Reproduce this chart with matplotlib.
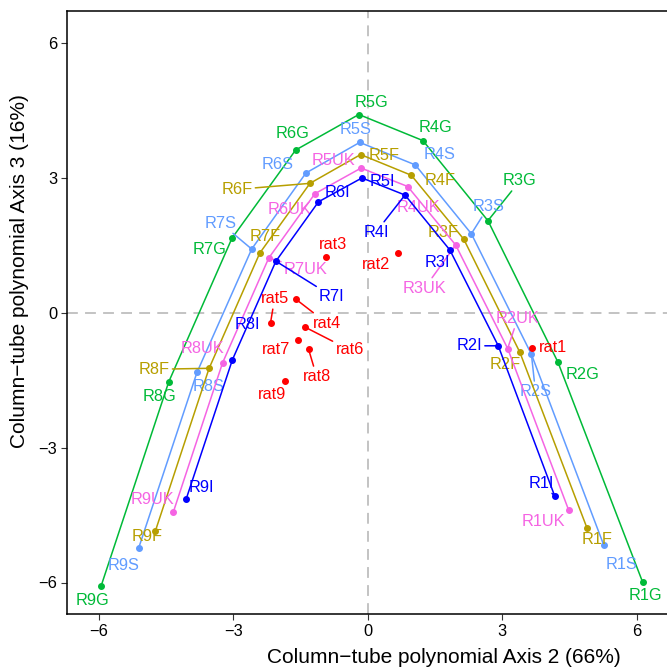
import matplotlib
matplotlib.use("Agg")
import matplotlib.pyplot as plt

plt.rcParams["font.family"] = ["Liberation Sans", "DejaVu Sans"]

rows = ["R1", "R2", "R3", "R4", "R5", "R6", "R7", "R8", "R9"]
groups = ["G", "S", "F", "UK", "I"]

# axis 2 / axis 3 coordinates
g_x = [6.13, 4.24, 2.68, 1.23, -0.20, -1.61, -3.03, -4.44, -5.95]
g_y = [-5.99, -1.10, 2.04, 3.82, 4.40, 3.61, 1.65, -1.54, -6.08]
s_x = [5.26, 3.65, 2.31, 1.06, -0.18, -1.38, -2.59, -3.81, -5.11]
s_y = [-5.16, -0.93, 1.75, 3.28, 3.78, 3.10, 1.41, -1.33, -5.23]
f_x = [4.89, 3.39, 2.14, 0.97, -0.16, -1.29, -2.41, -3.54, -4.74]
f_y = [-4.79, -0.88, 1.63, 3.05, 3.51, 2.87, 1.32, -1.24, -4.86]
uk_x = [4.48, 3.12, 1.96, 0.89, -0.15, -1.18, -2.21, -3.24, -4.34]
uk_y = [-4.39, -0.80, 1.50, 2.80, 3.21, 2.64, 1.21, -1.12, -4.44]
i_x = [4.17, 2.91, 1.83, 0.83, -0.13, -1.10, -2.05, -3.02, -4.05]
i_y = [-4.08, -0.74, 1.39, 2.61, 2.99, 2.46, 1.14, -1.05, -4.14]

rats = ["rat1", "rat2", "rat3", "rat4", "rat5", "rat6", "rat7", "rat8", "rat9"]
rat_x = [3.67, 0.68, -0.93, -1.61, -2.17, -1.41, -1.56, -1.32, -1.84]
rat_y = [-0.78, 1.32, 1.23, 0.30, -0.23, -0.32, -0.61, -0.82, -1.53]

colors = {"G": "#00BA38", "S": "#619CFF", "F": "#B79F00",
          "UK": "#F564E3", "I": "#0000FF", "rat": "#FF0000"}

# label offsets in pixels (repelled label placement)
offsets = {
    "R1G": (3, -13), "R2G": (25, -12), "R3G": (32, 40), "R4G": (13, 13),
    "R5G": (13, 12), "R6G": (-3, 17), "R7G": (-22, -11), "R8G": (-9, -15),
    "R9G": (-9, -14),
    "R1S": (18, -20), "R2S": (4, -37), "R3S": (17, 27), "R4S": (24, 10),
    "R5S": (-4, 13), "R6S": (-28, 9), "R7S": (-31, 26), "R8S": (12, -14),
    "R9S": (-15, -18),
    "R1F": (10, -11), "R2F": (-15, -12), "R3F": (-21, 7), "R4F": (29, -5),
    "R5F": (23, -1), "R6F": (-73, -6), "R7F": (5, 17), "R8F": (-55, -1),
    "R9F": (-8, -5),
    "R1UK": (-25, -11), "R2UK": (10, 30), "R3UK": (-31, -43), "R4UK": (11, -21),
    "R5UK": (-28, 8), "R6UK": (-25, -16), "R7UK": (37, -11), "R8UK": (-20, 14),
    "R9UK": (-21, 13),
    "R1I": (-13, 13), "R2I": (-29, 0), "R3I": (-12, -13), "R4I": (-29, -37),
    "R5I": (20, -4), "R6I": (19, 9), "R7I": (56, -35), "R8I": (15, 35),
    "R9I": (15, 11),
    "rat1": (21, 0), "rat2": (-22, -11), "rat3": (7, 13), "rat4": (31, -24),
    "rat5": (4, 24), "rat6": (45, -23), "rat7": (-22, -10), "rat8": (8, -27),
    "rat9": (-13, -13),
}
segments = {"R3G", "R2S", "R3S", "R7S", "R6F", "R8F", "R2UK", "R3UK", "R7UK",
            "R1I", "R2I", "R4I", "R7I", "rat4", "rat5", "rat6", "rat8"}

fig = plt.figure(figsize=(6.67, 6.71), dpi=100)
ax = fig.add_axes([67 / 667, 57 / 671, 601.6 / 667, 603 / 671])
ax.set_xlim(-6.71, 6.71)
ax.set_ylim(-6.7, 6.7)

ax.axhline(0, color="#BEBEBE", lw=1.3, ls=(0, (6, 4)), zorder=0)
ax.axvline(0, color="#BEBEBE", lw=1.3, ls=(0, (6, 4)), zorder=0)

series = {"G": (g_x, g_y), "S": (s_x, s_y), "F": (f_x, f_y),
          "UK": (uk_x, uk_y), "I": (i_x, i_y)}


def label(name, x, y, c):
    dx, dy = offsets[name]
    kw = {}
    if name in segments:
        kw["arrowprops"] = dict(arrowstyle="-", color=c, lw=1.1,
                                shrinkA=0, shrinkB=0)
    ax.annotate(name, (x, y), xytext=(dx, dy), textcoords="offset pixels",
                ha="center", va="center", color=c, fontsize=11.8, **kw)


for grp in groups:
    xs, ys = series[grp]
    c = colors[grp]
    ax.plot(xs, ys, color=c, lw=1.1, marker="o", ms=4, zorder=3)
    for r, x, y in zip(rows, xs, ys):
        label(r + grp, x, y, c)

ax.plot(rat_x, rat_y, "o", color=colors["rat"], ms=4, zorder=3)
for r, x, y in zip(rats, rat_x, rat_y):
    label(r, x, y, colors["rat"])

ax.set_xticks([-6, -3, 0, 3, 6])
ax.set_yticks([-6, -3, 0, 3, 6])
ax.set_xticklabels(["\u22126", "\u22123", "0", "3", "6"])
ax.set_yticklabels(["\u22126", "\u22123", "0", "3", "6"])
ax.tick_params(labelsize=11.8, length=4, width=0.8, color="#333333", pad=3)
for sp in ax.spines.values():
    sp.set_linewidth(1.1)
ax.set_xlabel("Column\u2212tube polynomial Axis 2 (66%)", fontsize=15)
ax.set_ylabel("Column\u2212tube polynomial Axis 3 (16%)", fontsize=15)
# titles are centred on the full (cropped) panel
ax.xaxis.set_label_coords(0.627, -0.057)
ax.yaxis.set_label_coords(-0.063, 0.569)

fig.savefig("out.png", dpi=100)
